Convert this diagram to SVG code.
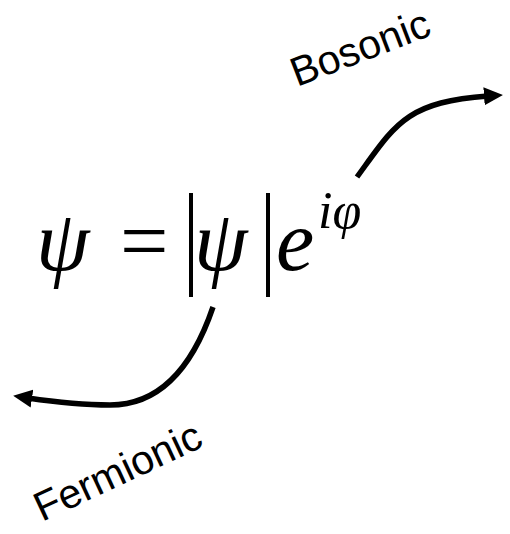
<svg xmlns="http://www.w3.org/2000/svg" width="510" height="534" viewBox="0 0 510 534">
<style>
.math{font-family:"Liberation Serif","Times New Roman",serif;font-style:italic;fill:#000}
.up{font-family:"Liberation Serif","Times New Roman",serif;fill:#000}
.lbl{font-family:"Liberation Sans",Arial,sans-serif;font-size:41px;fill:#000}
.arr{fill:none;stroke:#000;stroke-width:5.5}
</style>
<defs>
<marker id="ah" markerUnits="userSpaceOnUse" markerWidth="20" markerHeight="20" viewBox="0 0 20 20" refX="4" refY="10" orient="auto">
<path d="M0,1 L19,10 L0,19 z" fill="#000"/>
</marker>
</defs>
<rect width="510" height="534" fill="#fff"/>
<g id="formula">
<text class="math" x="36" y="270" font-size="86">ψ</text>
<text class="up" x="120" y="270" font-size="86">=</text>
<line x1="191" y1="193" x2="191" y2="297" stroke="#000" stroke-width="4"/>
<text class="math" x="194" y="270" font-size="86">ψ</text>
<line x1="268" y1="193" x2="268" y2="297" stroke="#000" stroke-width="4"/>
<text class="math" x="276" y="270" font-size="86">e</text>
<text class="math" x="318" y="228" font-size="52">iφ</text>
</g>
<g id="bosonic">
<text class="lbl" transform="translate(297,87) rotate(-21)">Bosonic</text>
</g>
<g id="fermionic">
<text class="lbl" transform="translate(42,522) rotate(-25)">Fermionic</text>
</g>
<g id="connectors">
<path class="arr" d="M357,177 C395,125 405,102 488,96" marker-end="url(#ah)"/>
<path class="arr" d="M213,307 C195,360 165,405 110,405 C80,405 55,402 28,398" marker-end="url(#ah)"/>
</g>
</svg>
